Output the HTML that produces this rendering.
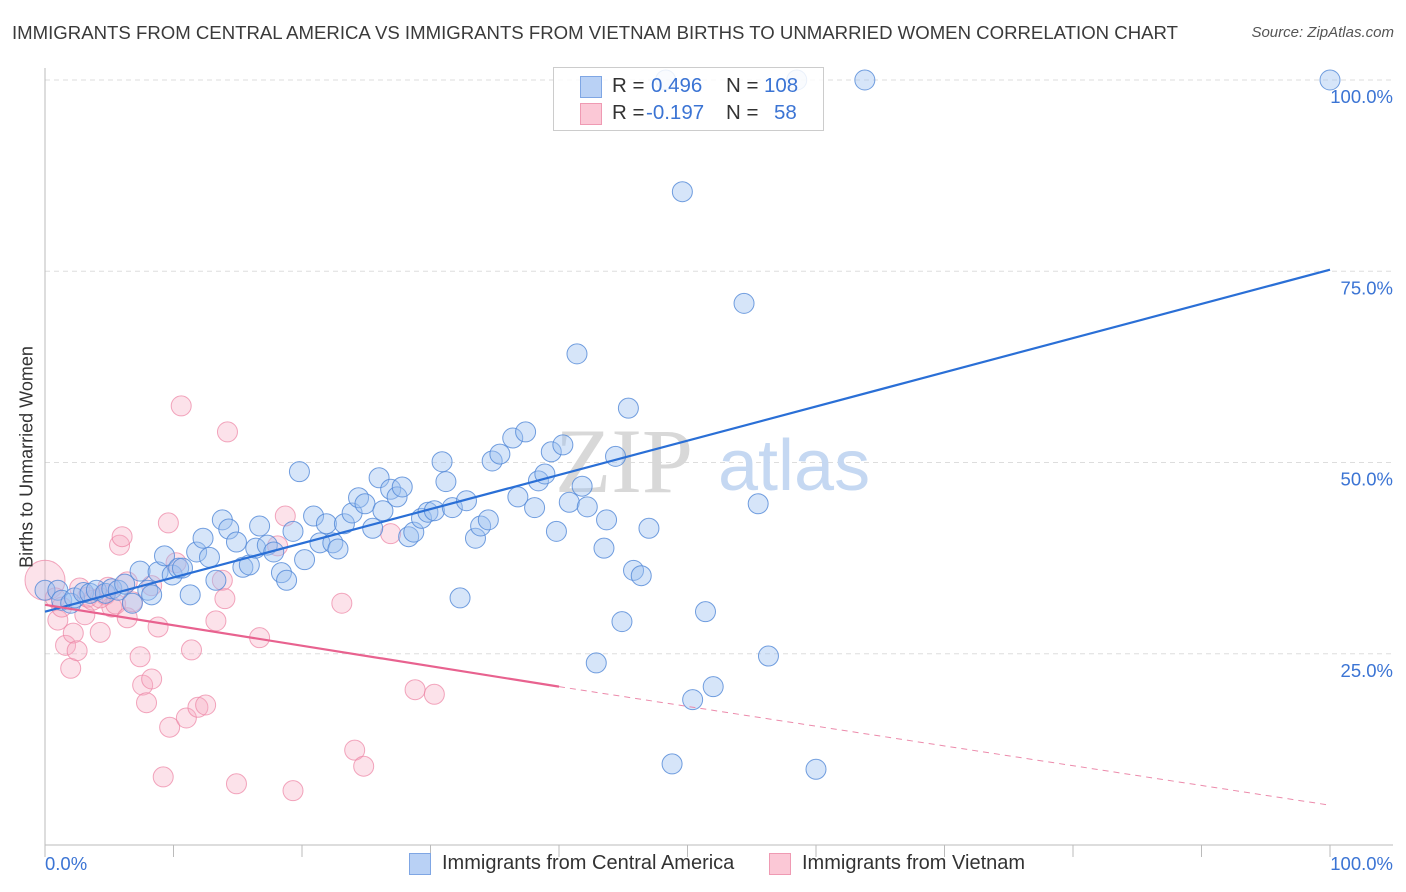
<!DOCTYPE html>
<html><head><meta charset="utf-8"><style>
body{margin:0;background:#fff;font-family:"Liberation Sans",sans-serif;}
#wrap{position:relative;width:1406px;height:892px;overflow:hidden;}
.t{position:absolute;white-space:nowrap;}
</style></head><body>
<div id="wrap">
<div class="t" style="left:12px;top:22px;font-size:18.6px;color:#3a3a3a;">IMMIGRANTS FROM CENTRAL AMERICA VS IMMIGRANTS FROM VIETNAM BIRTHS TO UNMARRIED WOMEN CORRELATION CHART</div>
<div class="t" style="right:12px;top:24px;font-size:15px;color:#555;font-style:italic;">Source: ZipAtlas.com</div>
<svg id="plot" width="1406" height="892" style="position:absolute;left:0;top:0"></svg>
<div class="t" style="left:27px;top:457px;font-size:18px;color:#333;transform:translate(-50%,-50%) rotate(-90deg);transform-origin:center;">Births to Unmarried Women</div>
<div style="position:absolute;left:553px;top:67px;width:269px;height:62px;border:1px solid #ccc;background:rgba(255,255,255,0.85);font-size:20.5px;">
 <div style="position:absolute;left:26px;top:8px;width:20px;height:20px;background:#b9d1f5;border:1px solid #7fa6e4;"></div>
 <div class="t" style="left:58px;top:6px;color:#333;">R = </div><div class="t" style="left:97px;top:6px;color:#3b74d4;">0.496</div>
 <div class="t" style="left:172px;top:6px;color:#333;">N = </div><div class="t" style="left:210px;top:6px;color:#3b74d4;">108</div>
 <div style="position:absolute;left:26px;top:35px;width:20px;height:20px;background:#fbc8d6;border:1px solid #ef9ab3;"></div>
 <div class="t" style="left:58px;top:33px;color:#333;">R = </div><div class="t" style="left:92px;top:33px;color:#3b74d4;">-0.197</div>
 <div class="t" style="left:172px;top:33px;color:#333;">N = </div><div class="t" style="left:220px;top:33px;color:#3b74d4;">58</div>
</div>
<div style="position:absolute;left:409px;top:853px;width:20px;height:20px;background:#b9d1f5;border:1px solid #7fa6e4;"></div>
<div class="t" style="left:442px;top:852px;font-size:20px;color:#333;">Immigrants from Central America</div>
<div style="position:absolute;left:769px;top:853px;width:20px;height:20px;background:#fbc8d6;border:1px solid #ef9ab3;"></div>
<div class="t" style="left:802px;top:852px;font-size:20px;color:#333;">Immigrants from Vietnam</div>
</div>
<script>
const blueX=[0,1,1.3,2,2.3,3,3.5,4,4.7,5.2,5.7,6.2,6.8,7.4,8,8.3,8.8,9.3,9.9,10.4,10.7,11.3,11.8,12.3,12.8,13.3,13.8,14.3,14.9,15.4,15.9,16.4,16.7,17.3,17.8,18.4,18.8,19.3,19.8,20.2,20.9,21.4,21.9,22.4,22.8,23.3,23.9,24.4,24.9,25.5,26,26.3,26.9,27.4,27.8,28.3,28.7,29.3,29.8,30.3,30.9,31.2,31.7,32.3,32.8,33.5,33.9,34.5,34.8,35.4,36.4,36.8,37.4,38.1,38.4,38.9,39.4,39.8,40.3,40.8,41.4,41.8,42.2,43.5,43.7,44.4,44.9,45.4,45.8,46.4,47,42.9,48.8,49.6,50.4,51.4,52,54.4,55.5,56.3,58.5,60,63.8,100,48.3];
const blueY=[33.3,33.3,32,31.6,32.3,33,32.9,33.3,32.9,33.5,33.3,34.1,31.6,35.8,33.3,32.7,35.7,37.8,35.3,36.2,36.2,32.7,38.3,40.1,37.6,34.6,42.5,41.3,39.6,36.3,36.6,38.8,41.7,39.2,38.3,35.6,34.6,41,48.8,37.3,43,39.5,42,39.5,38.7,42,43.4,45.4,44.6,41.4,48,43.7,46.5,45.5,46.8,40.3,40.9,42.7,43.5,43.7,50.1,47.5,44.1,32.3,45,40.1,41.7,42.5,50.2,51.1,53.2,45.5,54,44.1,47.6,48.5,51.4,41,52.3,44.8,64.2,46.9,44.2,38.8,42.5,50.8,29.2,57.1,35.9,35.2,41.4,23.8,10.6,85.4,19,30.5,20.7,70.8,44.6,24.7,100,9.9,100,100,100];
const pinkX=[0,0.8,1,1.3,1.6,2,2.2,2.5,3.1,3.3,3.7,4.3,4.7,5.2,5.5,5.8,6,6.4,6.4,6.8,7.4,7.6,7.9,8.3,8.3,8.8,9.2,9.6,9.7,10.2,10.6,11,11.4,11.9,12.5,13.3,13.8,14,14.2,14.9,16.7,18.1,18.7,19.3,23.1,24.1,24.8,26.9,28.8,30.3,4.3,2.7,4.9];
const pinkY=[34.6,32.3,29.4,31.1,26.1,23.1,27.7,25.4,30.1,32.4,32,27.8,32.7,31.1,31.5,39.2,40.3,29.7,34.4,31.8,24.6,20.9,18.6,21.7,33.9,28.5,8.9,42.1,15.4,36.9,57.4,16.6,25.5,18,18.3,29.3,34.6,32.2,54,8,27.1,39.1,43,7.1,31.6,12.4,10.3,40.7,20.3,19.7,32.3,33.6,33.7];
const blueTrendX=[0,100], blueTrendY=[30.5,75.2];
const pinkTrendX=[0,40,100], pinkTrendY=[31.4,20.7,5.2];
const yTicks=[25,50,75,100], yTickLabels=["25.0%","50.0%","75.0%","100.0%"];
const xTicks=[0,10,20,30,40,50,60,70,80,90,100];

const X0=45,X1=1330,Y0=845,Y1=80;
const sx=v=>X0+(X1-X0)*v/100, sy=v=>Y0-(Y0-Y1)*v/100;
const svg=document.getElementById('plot'),NS='http://www.w3.org/2000/svg';
function mk(tag,attrs){const e=document.createElementNS(NS,tag);for(const k in attrs)e.setAttribute(k,attrs[k]);svg.appendChild(e);return e;}
yTicks.forEach((v,i)=>{
 const g=mk('line',{x1:X0,x2:1393,y1:sy(v),y2:sy(v),stroke:'#ddd','stroke-dasharray':'5,4'});
 
 
 const t=mk('text',{x:1393,y:sy(v)+23,'text-anchor':'end','font-size':18.5,fill:'#3b74d4','font-family':'Liberation Sans'});
 t.textContent=yTickLabels[i];
 
 
});
const ax=mk('line',{x1:X0,x2:X0,y1:68,y2:Y0,stroke:'#bbb'});


const xa=mk('line',{x1:X0,x2:1393,y1:Y0,y2:Y0,stroke:'#bbb'});


xTicks.forEach(v=>{
 const l=mk('line',{x1:sx(v),x2:sx(v),y1:Y0,y2:Y0+12,stroke:'#bbb'});
 
 
});
[[X0,'start','0.0%'],[1393,'end','100.0%']].forEach(a=>{
 const t=mk('text',{x:a[0],y:870,'text-anchor':a[1],'font-size':18.5,fill:'#3b74d4','font-family':'Liberation Sans'});
 t.textContent=a[2];
 
 
});
const w1=mk('text',{x:555,y:492,'font-size':92,fill:'#d8d8d8','font-family':'Liberation Serif'});
w1.textContent='ZIP';


const w2=mk('text',{x:718,y:490,'font-size':72,fill:'#c5d8f2','font-family':'Liberation Sans'});
w2.textContent='atlas';


pinkX.forEach((v,i)=>{
 const c=mk('circle',{cx:sx(v),cy:sy(pinkY[i]),r:i===0?20:10,fill:'rgba(246,172,194,0.35)',stroke:'rgba(236,130,162,0.7)','stroke-width':1});
 
 
});
blueX.forEach((v,i)=>{
 const c=mk('circle',{cx:sx(v),cy:sy(blueY[i]),r:10,fill:'rgba(158,192,240,0.42)',stroke:'rgba(80,135,215,0.8)','stroke-width':1});
 
 
});
const bl=mk('line',{x1:sx(blueTrendX[0]),y1:sy(blueTrendY[0]),x2:sx(blueTrendX[1]),y2:sy(blueTrendY[1]),stroke:'#2a6fd6','stroke-width':2.2});


const pl=mk('line',{x1:sx(pinkTrendX[0]),y1:sy(pinkTrendY[0]),x2:sx(pinkTrendX[1]),y2:sy(pinkTrendY[1]),stroke:'#e8628f','stroke-width':2.2});


const pd=mk('line',{x1:sx(pinkTrendX[1]),y1:sy(pinkTrendY[1]),x2:sx(pinkTrendX[2]),y2:sy(pinkTrendY[2]),stroke:'#ec8aab','stroke-width':1,'stroke-dasharray':'6,5'});


</script>
</body></html>
